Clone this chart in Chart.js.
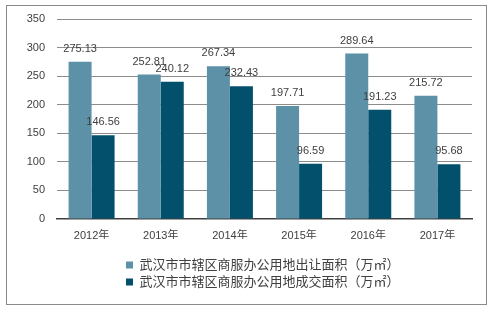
<!DOCTYPE html>
<html>
<head>
<meta charset="utf-8">
<script src="https://cdn.jsdelivr.net/npm/chart.js@4/dist/chart.umd.min.js"></script>
<style>
html,body{margin:0;padding:0;background:#fff;}
#wrap{position:absolute;left:0;top:0;width:497px;height:310px;}
</style>
</head>
<body>
<div id="wrap"><canvas id="c" width="497" height="310"></canvas></div>
<script>
const categories = ['2012年', '2013年', '2014年', '2015年', '2016年', '2017年'];
const seriesNames = ['武汉市市辖区商服办公用地出让面积（万㎡）', '武汉市市辖区商服办公用地成交面积（万㎡）'];
const transferArea = [275.13, 252.81, 267.34, 197.71, 289.64, 215.72];
const dealArea = [146.56, 240.12, 232.43, 96.59, 191.23, 95.68];
const yTicks = [0, 50, 100, 150, 200, 250, 300, 350];

const FONT = "'Liberation Sans', 'Noto Sans CJK SC', sans-serif";
const TEXT = '#404040';

const borderPlugin = {
  id: 'outerBorder',
  beforeDraw(chart) {
    const ctx = chart.ctx;
    ctx.save();
    ctx.fillStyle = '#fff';
    ctx.fillRect(0, 0, chart.width, chart.height);
    ctx.strokeStyle = '#8a8a8a';
    ctx.lineWidth = 1;
    ctx.strokeRect(6.5, 5.5, 480, 299);
    ctx.restore();
  }
};

const labelPlugin = {
  id: 'valueLabels',
  afterDatasetsDraw(chart) {
    const ctx = chart.ctx;
    ctx.save();
    ctx.font = '11px ' + FONT;
    ctx.fillStyle = TEXT;
    ctx.textAlign = 'center';
    ctx.textBaseline = 'middle';
    chart.data.datasets.forEach((ds, i) => {
      const meta = chart.getDatasetMeta(i);
      meta.data.forEach((el, j) => {
        ctx.fillText(ds.data[j].toFixed(2), el.x, el.y - 13);
      });
    });
    ctx.restore();
  }
};

const legendPosPlugin = {
  id: 'legendPos',
  afterLayout(chart) {
    const lg = chart.legend;
    if (!lg) return;
    const dx = 122 - lg.left, dy = 254.5 - lg.top;
    lg.left += dx; lg.right += dx; lg.top += dy; lg.bottom += dy;
  }
};

new Chart(document.getElementById('c'), {
  type: 'bar',
  data: {
    labels: categories,
    datasets: [
      { label: seriesNames[0], data: transferArea, backgroundColor: '#5d91a8', barPercentage: 1, categoryPercentage: 0.665 },
      { label: seriesNames[1], data: dealArea, backgroundColor: '#02506b', barPercentage: 1, categoryPercentage: 0.665 }
    ]
  },
  options: {
    responsive: false,
    animation: false,
    devicePixelRatio: 1,
    layout: { padding: { left: 0, right: 25, top: 19, bottom: 71 } },
    plugins: {
      tooltip: { enabled: false },
      legend: {
        position: 'chartArea',
        align: 'start',
        labels: {
          boxWidth: 7,
          boxHeight: 7,
          padding: 4,
          color: TEXT,
          font: { size: 13, family: FONT }
        }
      }
    },
    scales: {
      x: {
        grid: { display: false, drawTicks: false },
        border: { display: true, color: '#404040', width: 1.5 },
        ticks: { color: TEXT, font: { size: 11, family: FONT }, padding: 10 },
        afterFit(s) { s.height = 20; }
      },
      y: {
        min: 0,
        max: 350,
        afterBuildTicks(s) { s.ticks = yTicks.map(v => ({ value: v })); },
        grid: {
          color: (c) => c.tick && c.tick.value === 0 ? 'rgba(0,0,0,0)' : '#8c8c8c',
          drawTicks: false,
          lineWidth: 1
        },
        border: { display: false },
        ticks: { color: TEXT, font: { size: 11, family: FONT }, padding: 12 },
        afterFit(s) { s.width = 57; }
      }
    }
  },
  plugins: [borderPlugin, labelPlugin, legendPosPlugin]
});
</script>
</body>
</html>
